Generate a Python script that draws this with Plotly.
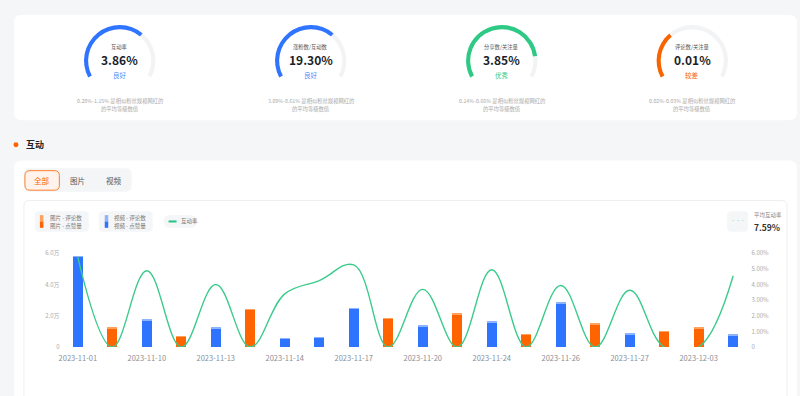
import plotly.graph_objects as go

W, H = 800, 396
FONT = "Noto Sans CJK SC"

# ---------------- data ----------------
gauge_titles = ["互动率", "涨粉数/互动数", "分享数/关注量", "评论数/关注量"]
gauge_values = ["3.86%", "19.30%", "3.85%", "0.01%"]
gauge_status = ["良好", "良好", "优秀", "较差"]
gauge_fill = [0.67, 0.67, 0.85, 0.33]
gauge_ranges = ["0.28%-1.15%", "3.09%-8.61%", "0.14%-0.66%", "0.02%-0.03%"]

tick_labels = ["2023-11-01", "2023-11-10", "2023-11-13", "2023-11-14", "2023-11-17",
               "2023-11-20", "2023-11-24", "2023-11-26", "2023-11-27", "2023-12-03"]

# values in 万
img_likes = [None, 1.17, None, 0.65, None, 2.36, None, None, None, 1.79,
             None, 2.08, None, 0.77, None, 1.42, None, 0.96, 1.19, None]
img_comments = [None, 0.04, None, 0.04, None, 0.04, None, None, None, 0.04,
                None, 0.04, None, 0.04, None, 0.04, None, 0.04, 0.04, None]
vid_likes = [5.75, None, 1.69, None, 1.17, None, 0.52, 0.58, 2.44, None,
             1.31, None, 1.58, None, 2.77, None, 0.79, None, None, 0.75]
vid_comments = [0.04, None, 0.04, None, 0.04, None, 0.04, 0.04, 0.04, None,
                0.04, None, 0.04, None, 0.04, None, 0.04, None, None, 0.04]
# 互动率 (%)
rate = [5.75, 0, 4.88, 0, 4.0, 0, 3.4, 4.25, 5.25, 0,
        3.69, 0, 4.94, 0, 3.94, 0, 3.63, 0, 0, 4.56]

left_ticks = [0, 2, 4, 6]
left_ticktext = ["0", "2.0万", "4.0万", "6.0万"]
right_ticks = [0, 1, 2, 3, 4, 5, 6]
right_ticktext = ["0", "1.00%", "2.00%", "3.00%", "4.00%", "5.00%", "6.00%"]
avg_rate = "7.59%"

# ---------------- helpers ----------------
def fx(x):
    return x / W

def fy(y):
    return 1 - y / H

def rrect(x0, y0, x1, y1, r, fill, line=None, lw=0):
    p = (f"M {fx(x0 + r)},{fy(y0)} L {fx(x1 - r)},{fy(y0)} Q {fx(x1)},{fy(y0)} {fx(x1)},{fy(y0 + r)} "
         f"L {fx(x1)},{fy(y1 - r)} Q {fx(x1)},{fy(y1)} {fx(x1 - r)},{fy(y1)} "
         f"L {fx(x0 + r)},{fy(y1)} Q {fx(x0)},{fy(y1)} {fx(x0)},{fy(y1 - r)} "
         f"L {fx(x0)},{fy(y0 + r)} Q {fx(x0)},{fy(y0)} {fx(x0 + r)},{fy(y0)} Z")
    return dict(type="path", path=p, xref="paper", yref="paper", fillcolor=fill,
                line=dict(color=line or fill, width=lw), layer="below")

annotations = []

def txt(x, y, s, size, color, xanchor="center", bold=False):
    annotations.append(dict(x=fx(x), y=fy(y), xref="paper", yref="paper", text=(f"<b>{s}</b>" if bold else s),
                            showarrow=False, xanchor=xanchor, yanchor="middle",
                            font=dict(family=FONT, size=size, color=color)))

shapes = []
# cards
shapes.append(rrect(12, 10, 797, 118, 8, "#ffffff"))
shapes.append(rrect(12, 159, 797, 420, 8, "#ffffff"))
shapes.append(rrect(22, 200, 787, 420, 6, "#ffffff", "#eceef2", 1))
# tabs
shapes.append(rrect(22, 167, 130, 191, 6, "#f4f5f7"))
shapes.append(rrect(23, 169.5, 57.5, 189.5, 5, "#fff3eb", "#ff7d2e", 1))
# section dot
shapes.append(dict(type="circle", xref="paper", yref="paper", x0=fx(11.5), x1=fx(16.5), y0=fy(145.5), y1=fy(140.5),
                   fillcolor="#ff6400", line=dict(width=0), layer="below"))
# legend boxes
shapes.append(rrect(33, 211, 87, 232, 4, "#f5f6f8"))
shapes.append(rrect(97, 211, 151, 232, 4, "#f5f6f8"))
shapes.append(rrect(162, 215, 195, 228, 6.5, "#f5f6f8"))
shapes.append(rrect(727, 211, 748, 232, 4, "#f5f6f8"))
# legend icons
def bar_icon(x, c_top, c_bot):
    shapes.append(dict(type="rect", xref="paper", yref="paper", x0=fx(x), x1=fx(x + 3.5), y0=fy(221.5), y1=fy(215),
                       fillcolor=c_top, line=dict(width=0)))
    shapes.append(dict(type="rect", xref="paper", yref="paper", x0=fx(x), x1=fx(x + 3.5), y0=fy(228), y1=fy(221.5),
                       fillcolor=c_bot, line=dict(width=0)))
bar_icon(38, "#ffa35c", "#ff6400")
bar_icon(103, "#8db4ff", "#2f74ff")
shapes.append(dict(type="line", xref="paper", yref="paper", x0=fx(167), x1=fx(175), y0=fy(221.5), y1=fy(221.5),
                   line=dict(color="#23c483", width=2)))

# text
txt(22, 143, "互动", 9, "#222", "left", True)
txt(40, 179.5, "全部", 7.5, "#ff6400")
txt(76, 179.5, "图片", 7.5, "#555")
txt(112, 179.5, "视频", 7.5, "#555")
txt(46, 217.5, "图片 - 评论数", 5.5, "#777", "left")
txt(46, 226, "图片 - 点赞量", 5.5, "#777", "left")
txt(110, 217.5, "视频 - 评论数", 5.5, "#777", "left")
txt(110, 226, "视频 - 点赞量", 5.5, "#777", "left")
txt(177, 221.5, "互动率", 5.5, "#777", "left")
txt(737.5, 221, "• • •", 4, "#3ccb8c")
txt(752, 215, "平均互动率", 5.5, "#888", "left")
txt(752, 227, avg_rate, 8.5, "#333", "left", True)

fig = go.Figure()

# gauges
gauge_cx = [118, 309.5, 501, 692]
gauge_cy = 57
gauge_colors = ["#2f74ff", "#2f74ff", "#2ec985", "#fa6400"]
status_colors = ["#4f8cff", "#4f8cff", "#2ec985", "#fa6400"]
R = 36.5
SPAN = 236
for i in range(4):
    cx = gauge_cx[i]
    f = gauge_fill[i]
    fig.add_trace(go.Pie(values=[f * SPAN, (1 - f) * SPAN, 360 - SPAN], sort=False, direction="clockwise",
                         rotation=-SPAN / 2, hole=0.885, textinfo="none", hoverinfo="skip",
                         marker=dict(colors=[gauge_colors[i], "#f2f3f5", "rgba(0,0,0,0)"], line=dict(width=0)),
                         domain=dict(x=[fx(cx - R), fx(cx + R)], y=[fy(gauge_cy + R), fy(gauge_cy - R)]),
                         showlegend=False))
    txt(cx, 42.5, gauge_titles[i], 5.3, "#555")
    txt(cx, 55.5, gauge_values[i], 12, "#1b1f2a", bold=True)
    txt(cx, 71.5, gauge_status[i], 6.5, status_colors[i])
    txt(cx, 98, gauge_ranges[i] + " 是相似粉丝规模网红的", 5.3, "#aaa")
    txt(cx, 106, "的平均等级数值", 5.3, "#aaa")

xs = list(range(len(rate)))
bw = 0.3
fig.add_trace(go.Bar(x=xs, y=img_likes, width=bw, marker=dict(color="#ff6400", line=dict(width=0)),
                     name="图片 - 点赞量", showlegend=False, xaxis="x", yaxis="y"))
fig.add_trace(go.Bar(x=xs, y=img_comments, width=bw, marker=dict(color="#ffa35c", line=dict(width=0)),
                     name="图片 - 评论数", showlegend=False, xaxis="x", yaxis="y"))
fig.add_trace(go.Bar(x=xs, y=vid_likes, width=bw, marker=dict(color="#2f74ff", line=dict(width=0)),
                     name="视频 - 点赞量", showlegend=False, xaxis="x", yaxis="y"))
fig.add_trace(go.Bar(x=xs, y=vid_comments, width=bw, marker=dict(color="#8db4ff", line=dict(width=0)),
                     name="视频 - 评论数", showlegend=False, xaxis="x", yaxis="y"))
fig.add_trace(go.Scatter(x=xs, y=rate, mode="lines", line=dict(color="#3ccb8c", width=1.4, shape="spline", smoothing=1.1),
                         name="互动率", showlegend=False, xaxis="x", yaxis="y2"))

axis_font = dict(family=FONT, size=6, color="#aaa")
fig.update_layout(
    width=W, height=H, margin=dict(l=0, r=0, t=0, b=0),
    paper_bgcolor="#f5f6f8", plot_bgcolor="rgba(0,0,0,0)",
    barmode="stack", showlegend=False,
    xaxis=dict(domain=[fx(58.7), fx(750.3)], range=[-0.5, 19.5], tickvals=xs[::2], ticktext=tick_labels,
               tickfont=dict(family=FONT, size=7.5, color="#8a8f99"), showgrid=False, zeroline=False,
               showline=False, ticks="", ticklabelstandoff=5),
    yaxis=dict(domain=[fy(350), fy(254)], range=[0, 6], tickvals=left_ticks, ticktext=left_ticktext,
               tickfont=axis_font, showgrid=False, zeroline=False, ticks=""),
    yaxis2=dict(overlaying="y", side="right", range=[0, 6], tickvals=right_ticks, ticktext=right_ticktext,
                tickfont=axis_font, showgrid=False, zeroline=False, ticks=""),
    shapes=shapes, annotations=annotations,
)

fig.write_html("out.html", config={"displayModeBar": False},
               post_script="document.body.style.margin='0';document.body.style.overflow='hidden';"
                           "document.documentElement.style.overflow='hidden';")
